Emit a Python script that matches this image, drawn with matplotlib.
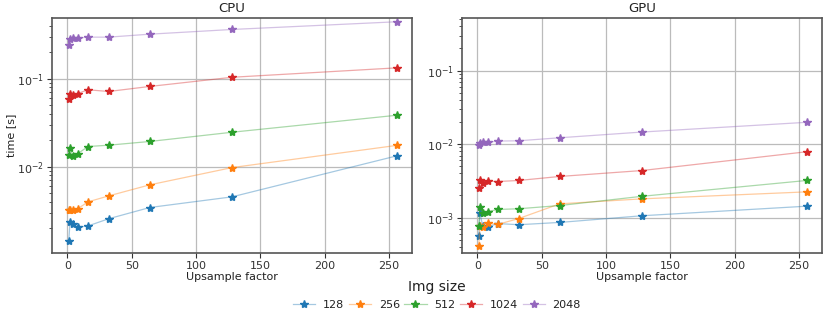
import matplotlib.pyplot as plt
import matplotlib.colors as mcolors

# factores de upsample
factores = [1, 2, 4, 8, 16, 32, 64, 128, 256]
tamanios = ["128", "256", "512", "1024", "2048"]

# tiempos CPU [s]
cpu_128 = [0.00142, 0.00234, 0.00227, 0.00206, 0.00213, 0.00257, 0.00345, 0.00456, 0.0133]
cpu_256 = [0.00321, 0.0032, 0.0032, 0.00334, 0.0040, 0.00467, 0.00624, 0.0098, 0.0175]
cpu_512 = [0.01355, 0.0162, 0.0133, 0.0141, 0.017, 0.0176, 0.0194, 0.0247, 0.0385]
cpu_1024 = [0.0582, 0.068, 0.066, 0.068, 0.075, 0.0717, 0.0818, 0.104, 0.133]
cpu_2048 = [0.245, 0.285, 0.287, 0.29, 0.297, 0.297, 0.321, 0.363, 0.444]

# tiempos GPU [s]
gpu_128 = [0.00057, 0.00116, 0.00078, 0.00075, 0.00083, 0.0008, 0.00086, 0.00106, 0.00143]
gpu_256 = [0.00041, 0.00076, 0.00075, 0.00084, 0.00081, 0.00097, 0.00154, 0.0018, 0.00224]
gpu_512 = [0.00076, 0.0014, 0.00116, 0.00121, 0.00129, 0.00132, 0.00146, 0.00195, 0.0032]
gpu_1024 = [0.00254, 0.0032, 0.0030, 0.00313, 0.0031, 0.0032, 0.00363, 0.00437, 0.00787]
gpu_2048 = [0.0096, 0.0104, 0.0108, 0.0106, 0.011, 0.0111, 0.0122, 0.0146, 0.0198]

cpu = [cpu_128, cpu_256, cpu_512, cpu_1024, cpu_2048]
gpu = [gpu_128, gpu_256, gpu_512, gpu_1024, gpu_2048]

colores = ["#1f77b4", "#ff7f0e", "#2ca02c", "#d62728", "#9467bd"]

plt.rcParams["font.size"] = 8
plt.rcParams["text.color"] = "#222222"
plt.rcParams["axes.labelcolor"] = "#222222"
plt.rcParams["xtick.color"] = "#333333"
plt.rcParams["ytick.color"] = "#333333"

fig = plt.figure(figsize=(8.3, 3.12), dpi=100)
ax_cpu = fig.add_axes([52 / 830, 1 - 253 / 312, 360 / 830, 235 / 312])
ax_gpu = fig.add_axes([462 / 830, 1 - 253 / 312, 360 / 830, 235 / 312])

for ax, datos, titulo, ylim in [(ax_cpu, cpu, "CPU", (0.00105, 0.49)),
                                (ax_gpu, gpu, "GPU", (0.00033, 0.52))]:
    for tam, valores, c in zip(tamanios, datos, colores):
        linea = mcolors.to_rgba(c, 0.4)
        ax.plot(factores, valores, color=linea, marker="*", markersize=6,
                markerfacecolor=c, markeredgecolor=c, linewidth=0.9, label=tam)
    ax.set_yscale("log")
    ax.set_ylim(*ylim)
    ax.set_xlim(-12, 268)
    ax.set_xticks([0, 50, 100, 150, 200, 250])
    ax.grid(True, which="major", color="#bbbbbb", linewidth=0.9)
    ax.set_axisbelow(True)
    ax.set_title(titulo, fontsize=9.5, pad=4)
    ax.set_xlabel("Upsample factor", labelpad=1)
    ax.tick_params(labelsize=8, pad=2)
    for s in ax.spines.values():
        s.set_color("#555555")
        s.set_linewidth(1.2)

ax_cpu.set_ylabel("time [s]", labelpad=1)

handles, labels = ax_cpu.get_legend_handles_labels()
leg = fig.legend(handles, labels, loc="center", bbox_to_anchor=(437 / 830, 0.055),
                 ncol=5, frameon=False, title="Img size", fontsize=8,
                 title_fontsize=10, handlelength=2.0, columnspacing=0.4,
                 handletextpad=0.7)

fig.savefig("out.png", dpi=100)
